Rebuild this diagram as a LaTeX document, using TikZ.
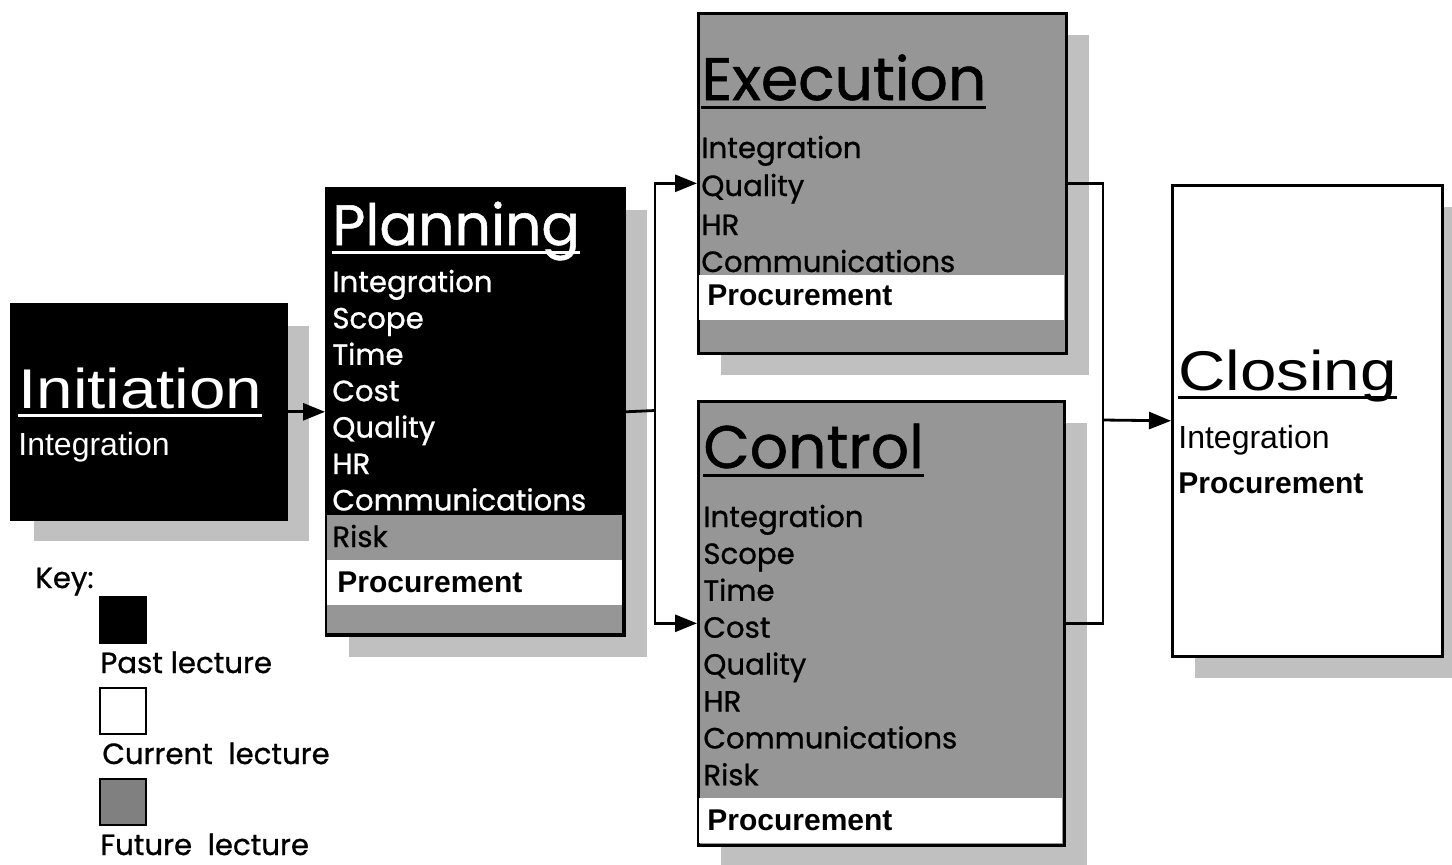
\documentclass[tikz,border=0pt]{standalone}
\usepackage{fontspec}
\usepackage{tikz}
\usetikzlibrary{arrows.meta, shadows}
\setmainfont{Liberation Sans}
\newfontfamily\gothic[FakeBold=0.9]{Poppins}
\newfontfamily\widehead[FakeStretch=1.17]{Liberation Sans}
\definecolor{futuregray}{RGB}{150,150,150}
\definecolor{keygray}{RGB}{128,128,128}
\definecolor{shadowgray}{RGB}{192,192,192}
% heading with a rule just under the baseline
\newcommand{\ulhead}[1]{\setbox0\hbox{#1}\rlap{\rule[-4.25pt]{\wd0}{1.5pt}}\box0}

\begin{document}
\begin{tikzpicture}[
    x=0.5pt, y=-0.5pt,
    box/.style={rectangle, draw, line width=1.3pt, anchor=north west, inner sep=0pt,
        drop shadow={shadow xshift=11.5pt, shadow yshift=-11pt, fill=shadowgray, opacity=1}},
    past/.style={box, fill=black},
    future/.style={box, fill=futuregray},
    current/.style={box, fill=white},
    keybox/.style={rectangle, draw, line width=0.8pt, anchor=north west, inner sep=0pt, minimum size=23pt},
    head/.style={anchor=base west, inner sep=0pt, font=\gothic\fontsize{30}{30}\selectfont},
    arhead/.style={anchor=base west, inner sep=0pt, font=\widehead\fontsize{28}{28}\selectfont},
    item/.style={anchor=base west, inner sep=0pt, font=\gothic\fontsize{14.6}{18}\selectfont},
    aritem/.style={anchor=base west, inner sep=0pt, font=\fontsize{16}{18}\selectfont},
    proc/.style={anchor=base west, inner sep=0pt, font=\bfseries\fontsize{15}{18}\selectfont},
    conn/.style={draw, line width=1.4pt, -{Triangle[length=11pt, width=8.5pt]}}
]
\useasboundingbox (0,0) rectangle (1452,864);

% process boxes
\node[past, minimum width=137.5pt, minimum height=107.5pt] (init) at (10,303) {};
\node[past, minimum width=149pt, minimum height=223.5pt] (plan) at (325,187) {};
\node[future, minimum width=184pt, minimum height=170pt] (exec) at (697,12) {};
\node[future, minimum width=183pt, minimum height=222pt] (ctrl) at (697,400) {};
\node[current, minimum width=135pt, minimum height=235.5pt] (close) at (1171,184) {};

% bands for the other lectures
\fill[futuregray] (326.5,515) rectangle (621.5,632.5);
\fill[white] (326.5,560) rectangle (621.5,605);
\fill[white] (698.5,275) rectangle (1063.5,320);
\fill[white] (698.5,798) rectangle (1061.5,842.5);

% initiation
\node[arhead, text=white] (init-head) at (18,408) {\ulhead{Initiation}};
\node[aritem, text=white] (init-int) at (18,455) {Integration};

% planning
\node[head, text=white, font=\gothic\fontsize{28.5}{30}\selectfont] (plan-head) at (332,245) {\ulhead{Planning}};
\foreach \t [count=\i from 0] in {Integration,Scope,Time,Cost,Quality,HR,Communications}
    \node[item, text=white] (plan-\t) at (332,292+36.4*\i) {\t};
\node[item] (plan-risk) at (332,547) {Risk};
\node[proc] (plan-proc) at (337,592) {Procurement};

% execution
\node[head] (exec-head) at (701,100) {\ulhead{Execution}};
\node[item] (exec-int) at (701,158) {Integration};
\node[item] (exec-qual) at (701,196) {Quality};
\node[item] (exec-hr) at (701,235) {HR};
\node[item] (exec-comm) at (701,272) {Communications};
\node[proc] (exec-proc) at (707,305) {Procurement};

% control
\node[head] (ctrl-head) at (703,468) {\ulhead{Control}};
\foreach \t [count=\i from 0] in {Integration,Scope,Time,Cost,Quality,HR,Communications,Risk}
    \node[item] (ctrl-\t) at (703,527+36.9*\i) {\t};
\node[proc] (ctrl-proc) at (707,830) {Procurement};

% closing
\node[arhead] (close-head) at (1178,390) {\ulhead{Closing}};
\node[aritem] (close-int) at (1178,448) {Integration};
\node[proc] (close-proc) at (1178,493) {Procurement};

% connectors
\coordinate (split) at (655,410.5);
\coordinate (join) at (1103,420);
\draw[conn] (init) -- (plan);
\draw[line width=1.4pt] (plan.east) -- (split);
\draw[conn] (split) |- (exec.west);
\draw[conn] (split) |- (ctrl.west);
\draw[line width=1.4pt] (exec.east) -| (join) |- (ctrl.east);
\draw[conn] (join) -- (close.west);

% key
\node[item] (key) at (35,588) {Key:};
\node[keybox, fill=black] (key-past) at (99,596) {};
\node[item] (key-past-txt) at (100,673) {Past lecture};
\node[keybox, fill=white] (key-cur) at (99,687) {};
\node[item] (key-cur-txt) at (102,764) {Current\ \ lecture};
\node[keybox, fill=keygray] (key-fut) at (99,778) {};
\node[item] (key-fut-txt) at (100,855) {Future\ \ lecture};
\end{tikzpicture}
\end{document}
